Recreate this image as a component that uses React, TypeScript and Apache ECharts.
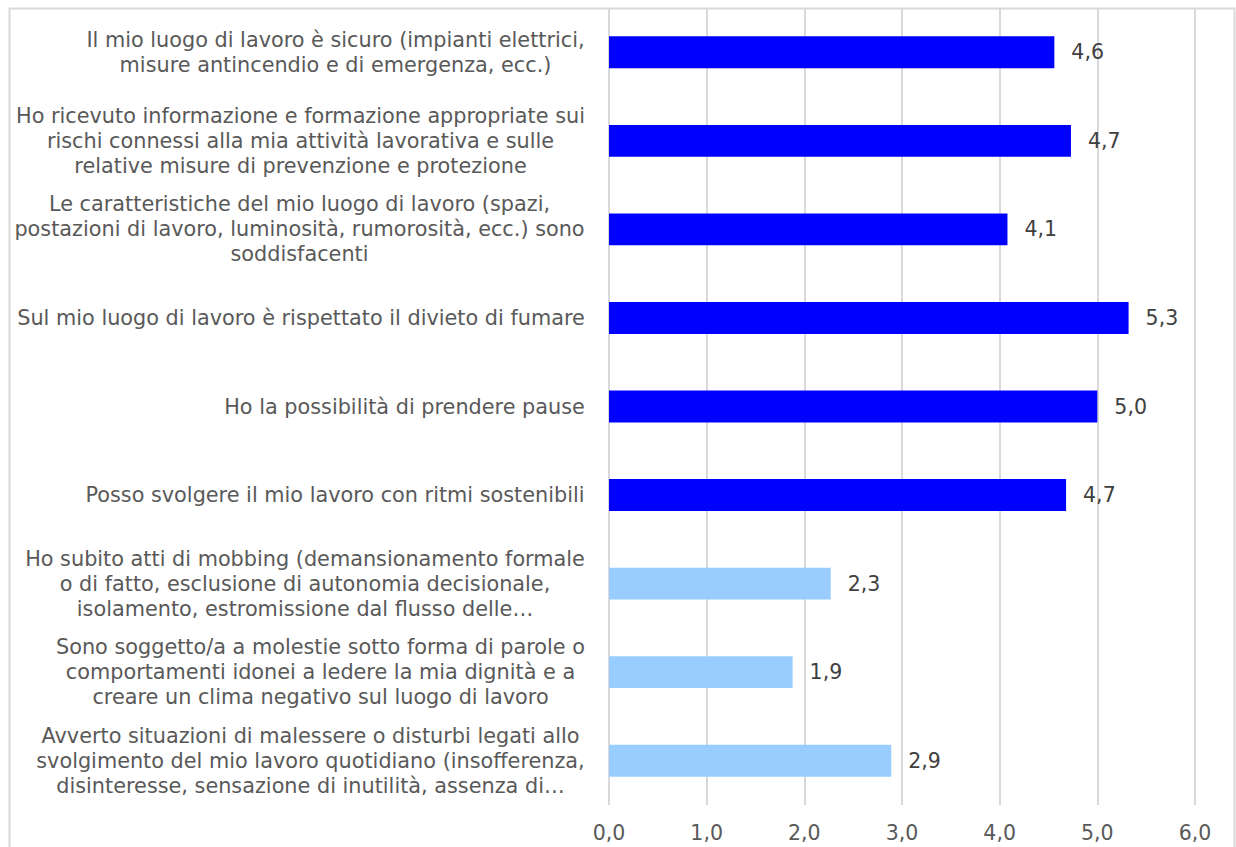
import React, { useEffect, useRef } from "react";
import * as echarts from "echarts";

const categories: string[] = [
  "Il mio luogo di lavoro è sicuro (impianti elettrici,\nmisure antincendio e di emergenza, ecc.)",
  "Ho ricevuto informazione e formazione appropriate sui\nrischi connessi alla mia attività lavorativa e sulle\nrelative misure di prevenzione e protezione",
  "Le caratteristiche del mio luogo di lavoro (spazi,\npostazioni di lavoro, luminosità, rumorosità, ecc.) sono\nsoddisfacenti",
  "Sul mio luogo di lavoro è rispettato il divieto di fumare",
  "Ho la possibilità di prendere pause",
  "Posso svolgere il mio lavoro con ritmi sostenibili",
  "Ho subito atti di mobbing (demansionamento formale\no di fatto, esclusione di autonomia decisionale,\nisolamento, estromissione dal flusso delle…",
  "Sono soggetto/a a molestie sotto forma di parole o\ncomportamenti idonei a ledere la mia dignità e a\ncreare un clima negativo sul luogo di lavoro",
  "Avverto situazioni di malessere o disturbi legati allo\nsvolgimento del mio lavoro quotidiano (insofferenza,\ndisinteresse, sensazione di inutilità, assenza di…",
];

const values: number[] = [4.56, 4.73, 4.08, 5.32, 5.0, 4.68, 2.27, 1.88, 2.89];

const barColors: string[] = [
  "#0000FF", "#0000FF", "#0000FF", "#0000FF", "#0000FF", "#0000FF",
  "#99CCFF", "#99CCFF", "#99CCFF",
];

const xTicks = { min: 0, max: 6, interval: 1 };

const FONT = '"DejaVu Sans", Verdana, sans-serif';
const FS = 20.5;
const FS_CAT = 20.8;

function fmt(v: number): string {
  return v.toFixed(1).replace(".", ",");
}

export default function App() {
  const ref = useRef<HTMLDivElement>(null);

  useEffect(() => {
    if (!ref.current) return;
    const chart = echarts.init(ref.current, null, { renderer: "svg" });

    const canvas = document.createElement("canvas");
    const ctx = canvas.getContext("2d")!;
    ctx.font = `${FS_CAT}px ${FONT}`;
    const rich: Record<string, any> = {};
    categories.forEach((c, i) => {
      const w = Math.max(...c.split("\n").map((l) => ctx.measureText(l).width));
      rich["c" + i] = {
        width: Math.ceil(w) + 2,
        align: "center",
        fontSize: FS_CAT,
        fontFamily: FONT,
        color: "#595959",
        lineHeight: 25,
      };
    });

    chart.setOption({
      animation: false,
      graphic: [
        {
          type: "rect",
          left: 7,
          top: 6,
          shape: { width: 1225, height: 880 },
          style: { fill: "none", stroke: "#d9d9d9", lineWidth: 2 },
          silent: true,
        },
      ],
      grid: { left: 609, right: 41, top: 8, bottom: 42 },
      xAxis: {
        type: "value",
        min: xTicks.min,
        max: xTicks.max,
        interval: xTicks.interval,
        axisLine: { show: false },
        axisTick: { show: false },
        splitLine: { show: true, lineStyle: { color: "#d9d9d9", width: 2 } },
        axisLabel: {
          formatter: (v: number) => fmt(v),
          color: "#595959",
          fontSize: FS,
          fontFamily: FONT,
          margin: 17,
        },
      },
      yAxis: {
        type: "category",
        inverse: true,
        data: categories,
        axisLine: { show: false },
        axisTick: { show: false },
        splitLine: { show: false },
        axisLabel: {
          margin: 23,
          align: "right",
          formatter: (v: string, idx: number) =>
            v
              .split("\n")
              .map((l) => `{c${idx}|${l}}`)
              .join("\n"),
          rich,
        },
      },
      series: [
        {
          type: "bar",
          barWidth: "36%",
          data: values.map((v, i) => ({ value: v, itemStyle: { color: barColors[i] } })),
          label: {
            show: true,
            position: "right",
            distance: 17,
            formatter: (p: any) => fmt(p.value),
            color: "#404040",
            fontSize: FS,
            fontFamily: FONT,
          },
        },
      ],
    });
    return () => chart.dispose();
  }, []);

  return (
    <div
      ref={ref}
      style={{ position: "fixed", left: 0, top: 0, width: 1236, height: 847, background: "#fff" }}
    />
  );
}
